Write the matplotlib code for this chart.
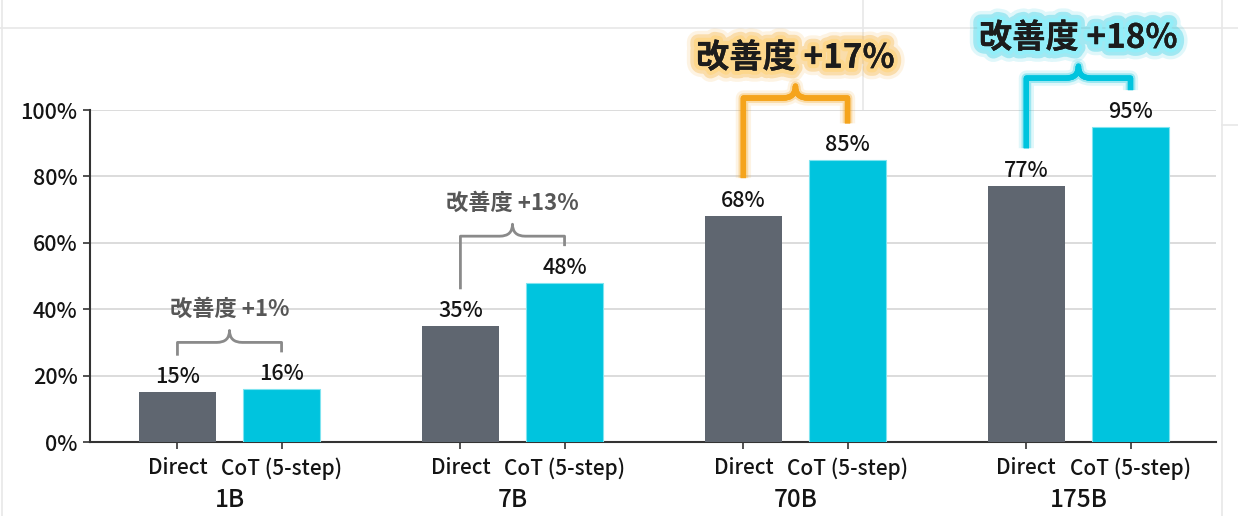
import numpy as np
import matplotlib.pyplot as plt
import matplotlib.patheffects as pe
from matplotlib.path import Path
from matplotlib.patches import PathPatch
from matplotlib.lines import Line2D

plt.rcParams['font.family'] = ['Noto Sans CJK JP', 'DejaVu Sans']

# data
groups = ['1B', '7B', '70B', '175B']
methods = ['Direct', 'CoT (5-step)']
direct = [15, 35, 68, 77]
cot = [16, 48, 85, 95]
gain_labels = ['改善度 +1%', '改善度 +13%', '改善度 +17%', '改善度 +18%']
yticks = [0, 20, 40, 60, 80, 100]

GRAY = '#5f6670'
CYAN = '#00c4de'
ORANGE = '#f5a41c'
NOTE_GRAY = '#8a8a8a'
hl_colors = [None, None, ORANGE, CYAN]
hl_light = [None, None, '#ffd685', '#8ff0fb']


def glow(color, light, widths=(16, 11, 6)):
    effs = [pe.withStroke(linewidth=widths[0], foreground=color, alpha=0.12),
            pe.withStroke(linewidth=widths[1], foreground=color, alpha=0.28),
            pe.withStroke(linewidth=widths[2], foreground=light, alpha=0.8),
            pe.Normal()]
    return effs


def brace(ax, x0, x1, y0, y1, ytop, color, lw, effects=None):
    xc = (x0 + x1) / 2
    w, h = 0.045, 3.6
    verts = [(x0, y0), (x0, ytop), (xc - w, ytop),
             (xc, ytop), (xc, ytop + h),
             (xc, ytop), (xc + w, ytop),
             (x1, ytop), (x1, y1)]
    codes = [Path.MOVETO, Path.LINETO, Path.LINETO,
             Path.CURVE3, Path.CURVE3,
             Path.CURVE3, Path.CURVE3,
             Path.LINETO, Path.LINETO]
    patch = PathPatch(Path(verts, codes), fill=False, edgecolor=color, lw=lw,
                      joinstyle='round', capstyle='butt', clip_on=False, zorder=4)
    if effects:
        patch.set_path_effects(effects)
    ax.add_patch(patch)


fig = plt.figure(figsize=(12.38, 5.16), dpi=100)

# faint background sheet lines
for (xs, ys) in [((0, 1), (0.9457, 0.9457)), ((0.0016, 0.0016), (0, 1)),
                 ((0.987, 0.987), (0, 1)), ((0.697, 0.697), (0.787, 1)),
                 ((0.987, 1), (0.758, 0.758))]:
    fig.add_artist(Line2D(xs, ys, transform=fig.transFigure, color='#e8e8e8', lw=1.2, zorder=0))

ax = fig.add_axes([0.0727, 0.1434, 0.9095, 0.6434])

x = np.arange(len(groups))
bw = 0.272
off = 0.184

ax.bar(x - off, direct, bw, color=GRAY, zorder=3)
ax.bar(x + off, cot, bw, color=CYAN, zorder=3, edgecolor='#7fe4f0', linewidth=0.8)

for xi, d, c in zip(x, direct, cot):
    ax.text(xi - off, d + 1.2, f'{d}%', ha='center', va='bottom', fontsize=15.5,
            fontweight='medium', color='#141414', zorder=5)
    ax.text(xi + off, c + 1.2, f'{c}%', ha='center', va='bottom', fontsize=15.5,
            fontweight='medium', color='#141414', zorder=5)

# improvement braces
for i, (xi, d, c, lab, hc, hl) in enumerate(zip(x, direct, cot, gain_labels, hl_colors, hl_light)):
    top = max(d, c)
    if hc is None:
        ytop = top + 14
        brace(ax, xi - off, xi + off, d + 11, c + 11, ytop, NOTE_GRAY, 2.0)
        ax.text(xi, ytop + 10, lab, ha='center', va='center', fontsize=16,
                fontweight='bold', color='#575757', zorder=5)
    else:
        ytop = top + (18.6 if i == 2 else 14.6)
        brace(ax, xi - off, xi + off, d + 11.5, c + 11, ytop, hc, 3.8,
              effects=[pe.withStroke(linewidth=11, foreground=hc, alpha=0.12),
                       pe.withStroke(linewidth=7, foreground=hc, alpha=0.3),
                       pe.Normal()])
        ax.text(xi, ytop + 12, lab, ha='center', va='center', fontsize=24,
                fontweight='bold', color='#1c1c1c', zorder=6, clip_on=False,
                path_effects=glow(hc, hl))

# axes styling
ax.set_xlim(-0.493, 3.486)
ax.set_ylim(0, 100)
ax.set_yticks(yticks)
ax.set_yticklabels([f'{t}%' for t in yticks], fontsize=15.5, fontweight='medium', color='#141414')
ax.grid(axis='y', color='#d6d6d6', lw=1.2, zorder=0)
ax.set_axisbelow(True)
for s in ['top', 'right']:
    ax.spines[s].set_visible(False)
for s in ['left', 'bottom']:
    ax.spines[s].set_color('#333333')
    ax.spines[s].set_linewidth(1.5)
ax.tick_params(axis='y', length=5, width=1.2, color='#333333', pad=4)

pos = np.concatenate([x - off, x + off])
ax.set_xticks(pos)
ax.set_xticklabels([methods[0]] * len(x) + [methods[1]] * len(x), fontsize=15,
                   fontweight='medium', color='#141414')
ax.tick_params(axis='x', length=5, width=1.2, color='#333333', pad=6)

for xi, g in zip(x, groups):
    ax.text(xi, -17.5, g, ha='center', va='center', fontsize=17.5, fontweight='medium',
            color='#141414', clip_on=False)

fig.savefig('out.png', dpi=100, facecolor='white')
